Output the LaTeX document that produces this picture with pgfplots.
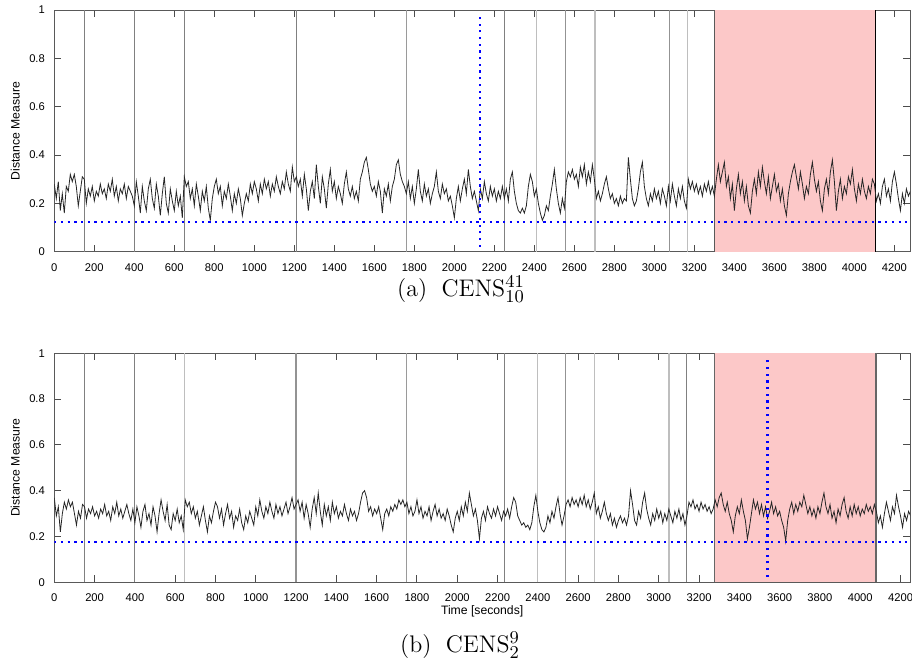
\documentclass[border=0pt]{standalone}
\usepackage{pgfplots}
\pgfplotsset{compat=1.18}
\usepackage{fontspec}
\newfontfamily\arial{Liberation Sans}
\DeclareMathSizes{12}{12}{9.5}{7}
\definecolor{shade}{RGB}{252,200,200}
\definecolor{vdark}{RGB}{128,128,128}
\definecolor{vlight}{RGB}{190,190,190}
\pgfplotsset{
 panel/.style={
  scale only axis, width=427.85pt, xmin=0, ymin=0, ymax=1,
  axis line style={draw=black!65, line width=0.5pt},
  tick style={draw=black!70, line width=0.5pt},
  tick align=inside, xtick={0,200,...,4200}, ytick={0,0.2,0.4,0.6,0.8,1},
  major tick length=3.5pt,
  tick label style={font=\arial\fontsize{5.6}{6}\selectfont},
  /pgf/number format/assume math mode=true,
  xticklabel style={/pgf/number format/1000 sep={}, yshift=-2.4pt},
  yticklabel style={xshift=-1.2pt},
  scaled x ticks=false,
  ylabel={Distance Measure},
  ylabel style={font=\arial\fontsize{6.1}{7}\selectfont, at={(axis description cs:-0.0455,0.5)}, anchor=center},
  xlabel style={font=\arial\fontsize{6.1}{7}\selectfont, at={(axis description cs:0.5,-0.125)}, anchor=center},
 },
 vl/.style={line width=0.6pt, forget plot},
 curve/.style={black!85, line width=0.4pt, forget plot},
 bdot/.style={blue, line width=1.1pt, dash pattern=on 1.1pt off 2.25pt, forget plot},
}
\begin{document}
\begin{tikzpicture}
\useasboundingbox (0,0) rectangle (456pt,-330.5pt);
\clip (0,0) rectangle (456pt,-330.5pt);
% ---------------- panel (a)
\begin{axis}[panel, at={(27.15pt,-125.85pt)}, anchor=south west, height=120.85pt, xmax=4278]
\addplot[fill=shade, draw=none, forget plot] coordinates {(3302,1) (4107,1)} \closedcycle;
\addplot[vl, vdark] coordinates {(150,0) (150,1)};
\addplot[vl, vdark] coordinates {(400,0) (400,1)};
\addplot[vl, vdark] coordinates {(650,0) (650,1)};
\addplot[vl, vdark] coordinates {(1209,0) (1209,1)};
\addplot[vl, vdark!80] coordinates {(1762,0) (1762,1)};
\addplot[vl, vdark] coordinates {(2250,0) (2250,1)};
\addplot[vl, vlight] coordinates {(2412,0) (2412,1)};
\addplot[vl, vdark!85] coordinates {(2557,0) (2557,1)};
\addplot[vl, vlight] coordinates {(2703,0) (2703,1)};
\addplot[vl, vdark!85] coordinates {(3075,0) (3075,1)};
\addplot[vl, vlight] coordinates {(3164,0) (3164,1)};
\addplot[vl, black!65] coordinates {(3302,0) (3302,1)};
\addplot[vl, black] coordinates {(4107,0) (4107,1)};
\addplot[curve] coordinates {
(0,.28)(10,.22)(20,.29)(30,.17)(40,.24)(50,.16)(60,.27)(70,.25)(80,.32)(90,.29)(100,.32)(110,.27)(120,.19)(130,.25)(140,.31)
(150,.30)(160,.20)(170,.26)(180,.23)(190,.27)(200,.21)(210,.25)(220,.23)(230,.28)(240,.24)(250,.26)(260,.22)(270,.28)(280,.25)(290,.30)(300,.23)(310,.27)(320,.21)(330,.26)(340,.24)(350,.28)(360,.22)(370,.27)(380,.25)(390,.23)
(400,.19)(410,.29)(420,.23)(430,.16)(440,.27)(450,.21)(460,.17)(470,.26)(480,.30)(490,.22)(500,.18)(510,.28)(520,.23)(530,.15)(540,.24)(550,.31)(560,.20)(570,.16)(580,.26)(590,.21)(600,.17)(610,.25)(620,.19)(630,.23)(640,.14)
(650,.31)(660,.27)(670,.29)(680,.22)(690,.26)(700,.19)(710,.28)(720,.23)(730,.17)(740,.25)(750,.21)(760,.27)(770,.18)(780,.13)(790,.22)(800,.27)(810,.30)(820,.24)(830,.27)(840,.19)(850,.25)(860,.22)(870,.28)(880,.23)(890,.17)(900,.24)(910,.20)(920,.26)(930,.22)(940,.15)(950,.20)(960,.24)(970,.21)(980,.28)(990,.24)
(1000,.29)(1010,.26)(1020,.21)(1030,.28)(1040,.24)(1050,.30)(1060,.26)(1070,.29)(1080,.23)(1090,.28)(1100,.25)(1110,.31)(1120,.27)(1130,.24)(1140,.29)(1150,.26)(1160,.33)(1170,.28)(1180,.25)(1190,.35)(1200,.29)
(1210,.31)(1220,.27)(1230,.30)(1240,.23)(1250,.32)(1260,.26)(1270,.17)(1280,.25)(1290,.29)(1300,.22)(1310,.36)(1320,.27)(1330,.20)(1340,.31)(1350,.26)(1360,.18)(1370,.28)(1380,.34)(1390,.25)(1400,.29)(1410,.22)(1420,.27)(1430,.24)(1440,.20)(1450,.28)(1460,.33)(1470,.26)(1480,.23)(1490,.27)(1500,.22)(1510,.25)(1520,.21)(1530,.30)(1540,.33)(1550,.37)(1560,.39)(1570,.34)(1580,.28)(1590,.25)(1600,.27)(1610,.23)(1620,.29)(1630,.25)(1640,.16)(1650,.26)(1660,.23)(1670,.28)(1680,.21)(1690,.27)(1700,.30)(1710,.36)(1720,.38)(1730,.32)(1740,.29)(1750,.27)
(1760,.24)(1770,.29)(1780,.22)(1790,.27)(1800,.20)(1810,.26)(1820,.34)(1830,.25)(1840,.21)(1850,.28)(1860,.23)(1870,.26)(1880,.20)(1890,.24)(1900,.27)(1910,.33)(1920,.25)(1930,.22)(1940,.28)(1950,.24)(1960,.26)(1970,.21)(1980,.23)(1990,.19)(2000,.14)(2010,.22)(2020,.27)(2030,.21)(2040,.26)(2050,.30)(2060,.24)(2070,.34)(2080,.27)(2090,.22)(2100,.25)(2110,.21)(2120,.17)(2130,.26)(2140,.22)(2150,.29)(2160,.24)(2170,.21)(2180,.27)(2190,.23)(2200,.26)(2210,.21)(2220,.25)(2230,.22)(2240,.27)
(2250,.22)(2260,.26)(2270,.21)(2280,.30)(2290,.33)(2300,.25)(2310,.20)(2320,.17)(2330,.16)(2340,.18)(2350,.16)(2360,.19)(2370,.27)(2380,.32)(2390,.29)(2400,.23)(2410,.26)
(2420,.20)(2430,.16)(2440,.13)(2450,.15)(2460,.19)(2470,.17)(2480,.23)(2490,.28)(2500,.34)(2510,.26)(2520,.20)(2530,.16)(2540,.22)(2550,.18)
(2560,.29)(2570,.33)(2580,.31)(2590,.34)(2600,.30)(2610,.32)(2620,.27)(2630,.35)(2640,.31)(2650,.36)(2660,.28)(2670,.33)(2680,.29)(2690,.36)(2700,.30)
(2710,.22)(2720,.25)(2730,.21)(2740,.24)(2750,.28)(2760,.31)(2770,.26)(2780,.22)(2790,.24)(2800,.20)(2810,.22)(2820,.19)(2830,.23)(2840,.20)(2850,.22)(2860,.21)
(2870,.39)(2880,.30)(2890,.22)(2900,.19)(2910,.21)(2920,.26)(2930,.33)(2940,.37)(2950,.27)(2960,.22)(2970,.19)(2980,.24)(2990,.21)(3000,.26)(3010,.22)(3020,.25)(3030,.20)(3040,.26)(3050,.23)(3060,.19)(3070,.27)(3080,.21)(3090,.28)(3100,.23)(3110,.19)(3120,.26)(3130,.22)(3140,.27)(3150,.21)(3160,.18)(3170,.30)(3180,.26)(3190,.29)(3200,.25)(3210,.28)(3220,.24)(3230,.27)(3240,.23)(3250,.28)(3260,.25)(3270,.29)(3280,.24)(3290,.27)(3300,.23)
(3310,.30)(3320,.36)(3330,.29)(3340,.33)(3350,.37)(3360,.27)(3370,.31)(3380,.22)(3390,.28)(3400,.17)(3410,.26)(3420,.32)(3430,.24)(3440,.29)(3450,.21)(3460,.27)(3470,.19)(3480,.16)(3490,.25)(3500,.30)(3510,.24)(3520,.33)(3530,.27)(3540,.35)(3550,.29)(3560,.24)(3570,.31)(3580,.22)(3590,.27)(3600,.32)(3610,.25)(3620,.28)(3630,.21)(3640,.26)(3650,.19)(3660,.15)(3670,.24)(3680,.29)(3690,.33)(3700,.36)(3710,.31)(3720,.26)(3730,.33)(3740,.28)(3750,.22)(3760,.27)(3770,.24)(3780,.32)(3790,.37)(3800,.30)(3810,.25)(3820,.29)(3830,.21)(3840,.17)(3850,.26)(3860,.30)(3870,.24)(3880,.33)(3890,.38)(3900,.29)(3910,.17)(3920,.25)(3930,.30)(3940,.22)(3950,.27)(3960,.24)(3970,.31)(3980,.28)(3990,.34)(4000,.26)(4010,.21)(4020,.28)(4030,.24)(4040,.30)(4050,.25)(4060,.22)(4070,.27)(4080,.24)(4090,.30)(4100,.28)
(4110,.21)(4120,.24)(4130,.20)(4140,.27)(4150,.30)(4160,.23)(4170,.26)(4180,.21)(4190,.29)(4200,.33)(4210,.28)(4220,.22)(4230,.17)(4240,.24)(4250,.20)(4260,.26)(4270,.23)(4280,.25)
};
\addplot[bdot] coordinates {(0,0.122) (4278,0.122)};
\addplot[bdot] coordinates {(2129,0.02) (2129,0.98)};
\end{axis}
\node[anchor=base, font=\fontsize{12}{14}\selectfont] at (230.5pt,-148.3pt) {(a)\hspace{0.6em}CENS$^{41}_{10}$};
% ---------------- panel (b)
\begin{axis}[panel, at={(27.15pt,-291.15pt)}, anchor=south west, height=114.5pt, xmax=4247, xlabel={Time [seconds]}]
\addplot[fill=shade, draw=none, forget plot] coordinates {(3275,1) (4078,1)} \closedcycle;
\addplot[vl, vdark] coordinates {(149,0) (149,1)};
\addplot[vl, vdark] coordinates {(397,0) (397,1)};
\addplot[vl, vlight] coordinates {(645,0) (645,1)};
\addplot[vl, vdark!85] coordinates {(1200,0) (1200,1)};
\addplot[vl, vdark!80] coordinates {(1749,0) (1749,1)};
\addplot[vl, vdark] coordinates {(2233,0) (2233,1)};
\addplot[vl, vlight] coordinates {(2397,0) (2397,1)};
\addplot[vl, vdark!85] coordinates {(2538,0) (2538,1)};
\addplot[vl, vlight] coordinates {(2682,0) (2682,1)};
\addplot[vl, vlight] coordinates {(3051,0) (3051,1)};
\addplot[vl, vdark] coordinates {(3138,0) (3138,1)};
\addplot[vl, black!60] coordinates {(3275,0) (3275,1)};
\addplot[vl, black!60] coordinates {(4078,0) (4078,1)};
\addplot[curve] coordinates {
(0,.37)(10,.29)(20,.33)(30,.22)(40,.30)(50,.35)(60,.32)(70,.36)(80,.33)(90,.35)(100,.30)(110,.25)(120,.31)(130,.28)(140,.34)
(150,.33)(160,.28)(170,.32)(180,.30)(190,.33)(200,.29)(210,.31)(220,.28)(230,.32)(240,.30)(250,.34)(260,.29)(270,.31)(280,.27)(290,.33)(300,.30)(310,.35)(320,.29)(330,.32)(340,.28)(350,.31)(360,.34)(370,.30)(380,.27)(390,.32)
(400,.26)(410,.33)(420,.29)(430,.24)(440,.31)(450,.34)(460,.27)(470,.30)(480,.25)(490,.33)(500,.29)(510,.22)(520,.30)(530,.36)(540,.31)(550,.27)(560,.34)(570,.25)(580,.23)(590,.30)(600,.27)(610,.32)(620,.26)(630,.29)(640,.23)
(650,.36)(660,.33)(670,.35)(680,.30)(690,.33)(700,.28)(710,.31)(720,.25)(730,.29)(740,.33)(750,.27)(760,.22)(770,.29)(780,.26)(790,.31)(800,.35)(810,.33)(820,.28)(830,.32)(840,.25)(850,.30)(860,.34)(870,.28)(880,.31)(890,.24)(900,.29)(910,.27)(920,.32)(930,.26)(940,.23)(950,.29)(960,.26)(970,.31)(980,.28)(990,.25)
(1000,.33)(1010,.29)(1020,.36)(1030,.31)(1040,.28)(1050,.33)(1060,.30)(1070,.35)(1080,.31)(1090,.28)(1100,.34)(1110,.30)(1120,.33)(1130,.29)(1140,.32)(1150,.35)(1160,.30)(1170,.33)(1180,.37)(1190,.32)(1200,.34)
(1210,.36)(1220,.31)(1230,.35)(1240,.28)(1250,.34)(1260,.30)(1270,.24)(1280,.32)(1290,.37)(1300,.30)(1310,.39)(1320,.31)(1330,.25)(1340,.34)(1350,.29)(1360,.33)(1370,.27)(1380,.35)(1390,.30)(1400,.33)(1410,.28)(1420,.31)(1430,.29)(1440,.34)(1450,.30)(1460,.27)(1470,.32)(1480,.29)(1490,.31)(1500,.27)(1510,.30)(1520,.35)(1530,.39)(1540,.40)(1550,.37)(1560,.31)(1570,.33)(1580,.29)(1590,.32)(1600,.30)(1610,.33)(1620,.28)(1630,.23)(1640,.30)(1650,.32)(1660,.29)(1670,.33)(1680,.31)(1690,.34)(1700,.32)(1710,.36)(1720,.34)(1730,.36)(1740,.33)(1750,.35)
(1760,.30)(1770,.33)(1780,.29)(1790,.31)(1800,.36)(1810,.30)(1820,.33)(1830,.28)(1840,.31)(1850,.29)(1860,.33)(1870,.27)(1880,.31)(1890,.34)(1900,.29)(1910,.32)(1920,.28)(1930,.30)(1940,.27)(1950,.32)(1960,.29)(1970,.25)(1980,.22)(1990,.28)(2000,.31)(2010,.27)(2020,.33)(2030,.29)(2040,.35)(2050,.31)(2060,.39)(2070,.34)(2080,.29)(2090,.32)(2100,.27)(2110,.19)(2120,.28)(2130,.31)(2140,.27)(2150,.33)(2160,.30)(2170,.28)(2180,.32)(2190,.29)(2200,.33)(2210,.30)(2220,.27)(2230,.31)
(2240,.29)(2250,.32)(2260,.28)(2270,.33)(2280,.37)(2290,.35)(2300,.29)(2310,.27)(2320,.25)(2330,.26)(2340,.24)(2350,.25)(2360,.23)(2370,.26)(2380,.33)(2390,.38)
(2400,.31)(2410,.26)(2420,.23)(2430,.22)(2440,.24)(2450,.29)(2460,.26)(2470,.31)(2480,.28)(2490,.33)(2500,.37)(2510,.30)(2520,.25)(2530,.29)
(2540,.34)(2550,.36)(2560,.33)(2570,.37)(2580,.34)(2590,.36)(2600,.33)(2610,.37)(2620,.34)(2630,.38)(2640,.33)(2650,.36)(2660,.32)(2670,.35)(2680,.39)
(2690,.30)(2700,.33)(2710,.28)(2720,.31)(2730,.35)(2740,.30)(2750,.27)(2760,.30)(2770,.25)(2780,.28)(2790,.24)(2800,.27)(2810,.29)(2820,.26)(2830,.28)(2840,.25)(2850,.29)(2860,.40)(2870,.34)(2880,.27)(2890,.25)(2900,.31)(2910,.28)(2920,.35)(2930,.39)(2940,.32)(2950,.28)(2960,.25)(2970,.30)(2980,.27)(2990,.32)(3000,.28)(3010,.31)(3020,.26)(3030,.30)(3040,.27)(3050,.32)
(3060,.29)(3070,.26)(3080,.31)(3090,.28)(3100,.32)(3110,.27)(3120,.30)(3130,.25)
(3140,.29)(3150,.35)(3160,.33)(3170,.36)(3180,.32)(3190,.34)(3200,.31)(3210,.35)(3220,.32)(3230,.34)(3240,.31)(3250,.33)(3260,.30)(3270,.32)
(3280,.36)(3290,.33)(3300,.37)(3310,.39)(3320,.34)(3330,.31)(3340,.35)(3350,.30)(3360,.27)(3370,.22)(3380,.29)(3390,.33)(3400,.30)(3410,.36)(3420,.31)(3430,.27)(3440,.19)(3450,.24)(3460,.30)(3470,.36)(3480,.32)(3490,.35)(3500,.30)(3510,.34)(3520,.29)(3530,.33)(3540,.28)(3550,.31)(3560,.35)(3570,.30)(3580,.33)(3590,.29)(3600,.31)(3610,.27)(3620,.24)(3630,.18)(3640,.27)(3650,.32)(3660,.35)(3670,.30)(3680,.34)(3690,.31)(3700,.35)(3710,.33)(3720,.38)(3730,.34)(3740,.30)(3750,.33)(3760,.29)(3770,.32)(3780,.28)(3790,.33)(3800,.30)(3810,.35)(3820,.39)(3830,.33)(3840,.30)(3850,.34)(3860,.28)(3870,.31)(3880,.26)(3890,.32)(3900,.29)(3910,.34)(3920,.37)(3930,.31)(3940,.28)(3950,.33)(3960,.29)(3970,.34)(3980,.30)(3990,.33)(4000,.29)(4010,.32)(4020,.30)(4030,.34)(4040,.31)(4050,.33)(4060,.30)(4070,.34)
(4080,.31)(4090,.26)(4100,.29)(4110,.24)(4120,.30)(4130,.35)(4140,.31)(4150,.27)(4160,.33)(4170,.30)(4180,.38)(4190,.33)(4200,.29)(4210,.24)(4220,.30)(4230,.27)(4240,.31)(4250,.29)
};
\addplot[bdot] coordinates {(0,0.177) (4247,0.177)};
\addplot[bdot] coordinates {(3540,0.024) (3540,0.978)};
\end{axis}
\node[anchor=base, font=\fontsize{12}{14}\selectfont] at (230pt,-326pt) {(b)\hspace{0.6em}CENS$^{9}_{2}$};
\end{tikzpicture}
\end{document}
